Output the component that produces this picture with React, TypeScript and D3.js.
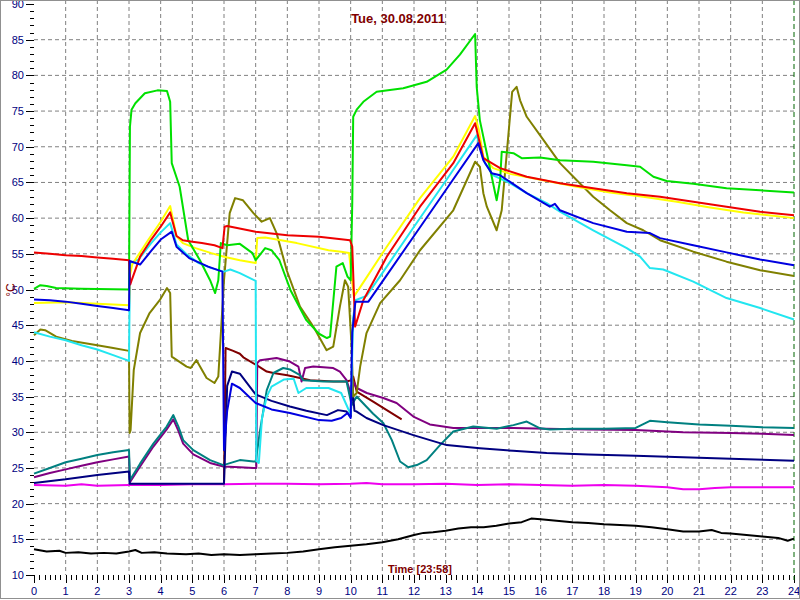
import React from "react";
import * as d3 from "d3";

type P = [number, number];

const title = "Tue, 30.08.2011";
const timeLabel = "Time [23:58]";
const yUnit = "°C";
const hourTicks = d3.range(0, 25);
const valueTicks = d3.range(10, 91, 5);

const blackS: P[] = [[0,13.6],[0.4,13.3],[0.8,13.4],[1.0,13.1],[1.4,13.2],[1.8,13.0],[2.2,13.1],[2.6,13.0],[3.0,13.3],[3.2,13.5],[3.4,13.1],[3.8,13.2],[4.2,13.0],[4.8,12.9],[5.2,13.0],[5.6,12.8],[6.0,12.9],[6.5,12.8],[7.0,12.9],[7.5,13.0],[8.0,13.1],[8.5,13.3],[9.0,13.6],[9.5,13.9],[10.0,14.1],[10.5,14.3],[11.0,14.6],[11.5,15.0],[12.0,15.6],[12.3,15.9],[12.6,16.0],[13.0,16.2],[13.4,16.5],[13.8,16.7],[14.2,16.7],[14.6,16.9],[15.0,17.2],[15.4,17.4],[15.7,17.9],[16.0,17.8],[16.5,17.6],[17.0,17.4],[17.5,17.3],[18.0,17.1],[18.5,17.0],[19.0,16.9],[19.5,16.7],[20.0,16.4],[20.5,16.1],[21.0,16.1],[21.4,16.3],[21.7,15.9],[22.0,15.8],[22.5,15.6],[23.0,15.4],[23.5,15.2],[23.8,14.8],[24.0,15.1]];

const magentaS: P[] = [[0,22.6],[1,22.5],[1.5,22.7],[2,22.5],[3,22.6],[4,22.6],[5,22.7],[6,22.7],[7,22.8],[8,22.8],[9,22.7],[10,22.8],[10.5,22.9],[11,22.7],[12,22.7],[13,22.8],[14,22.6],[15,22.7],[16,22.6],[17,22.5],[18,22.6],[19,22.5],[20,22.3],[20.5,22.0],[21,22.0],[21.5,22.2],[22,22.3],[23,22.3],[24,22.3]];

const navyS: P[] = [[0,22.9],[1,23.4],[2,24.0],[3.0,24.5],[3.02,22.8],[4,22.8],[5,22.8],[6.0,22.8],[6.1,36.5],[6.25,38.5],[6.5,38.2],[7.0,35.3],[7.5,34.4],[8.08,33.6],[8.6,33.0],[9.25,32.4],[9.6,33.1],[9.87,32.9],[10.0,32.2],[10.05,36.5],[10.12,33.0],[10.19,32.9],[10.5,32.0],[11.03,31.0],[11.98,29.6],[13.03,28.2],[14.08,27.75],[15.13,27.4],[16.19,27.1],[17.5,26.9],[19.0,26.7],[20.5,26.5],[22.0,26.3],[24.0,26.0]];

const maroonS: P[] = [[6.0,22.8],[6.05,41.8],[6.29,41.4],[6.5,41.0],[6.61,40.5],[7.03,39.4],[7.35,38.5],[7.56,38.3],[8.0,38.0],[8.4,37.6],[8.72,37.3],[9.45,37.1],[9.87,37.1],[10.03,37.3],[10.08,37.8],[10.19,35.7],[10.71,34.3],[11.14,33.1],[11.61,31.8]];

const purpleS: P[] = [[0,23.7],[0.5,24.3],[1.0,24.8],[1.5,25.3],[2.0,25.8],[2.5,26.2],[3.0,26.6],[3.03,23.0],[3.35,25.2],[3.77,28.0],[4.19,30.4],[4.4,31.8],[4.56,30.2],[4.71,28.4],[5.03,26.9],[5.56,25.7],[5.98,25.2],[6.5,25.1],[6.93,25.0],[7.02,25.0],[7.05,39.7],[7.14,40.1],[7.66,40.4],[8.08,39.9],[8.35,39.2],[8.45,37.1],[8.56,39.0],[8.82,39.2],[9.45,39.0],[9.66,38.5],[9.87,37.3],[10.03,35.0],[10.1,37.0],[10.19,36.2],[10.51,35.5],[11.03,34.8],[11.45,34.1],[11.98,32.2],[12.5,31.1],[13.24,30.6],[14.08,30.6],[15.14,30.6],[16.19,30.5],[17.5,30.4],[19.0,30.3],[20.5,30.0],[22.0,29.9],[23.0,29.8],[24.0,29.6]];

const tealS: P[] = [[0,24.2],[0.5,25.0],[1.0,25.8],[1.5,26.3],[2.0,26.8],[2.5,27.2],[3.0,27.5],[3.03,23.3],[3.35,25.6],[3.77,28.4],[4.19,30.8],[4.4,32.4],[4.56,30.8],[4.71,28.9],[5.03,27.5],[5.56,26.1],[5.98,25.4],[6.5,26.1],[6.93,25.9],[7.0,25.9],[7.14,30.3],[7.35,35.9],[7.56,38.3],[7.87,39.0],[8.08,38.8],[8.4,38.0],[8.5,37.3],[9.14,37.1],[9.87,37.1],[10.03,33.8],[10.19,35.0],[10.71,32.6],[11.03,31.3],[11.3,28.9],[11.56,25.9],[11.82,25.1],[12.09,25.4],[12.4,26.1],[12.82,28.2],[13.24,30.1],[13.87,30.8],[14.61,30.5],[15.14,31.0],[15.56,31.5],[15.98,30.55],[16.29,30.4],[17.0,30.5],[18.0,30.5],[19.0,30.6],[19.45,31.6],[20.0,31.4],[21.0,31.1],[22.0,30.9],[23.0,30.7],[24.0,30.6]];

const oliveS: P[] = [[0,43.6],[0.2,44.4],[0.35,44.3],[0.7,43.4],[1.2,42.8],[2.0,42.2],[2.5,41.8],[3.0,41.4],[3.02,29.9],[3.05,30.3],[3.15,38.7],[3.35,43.9],[3.65,46.7],[3.97,48.5],[4.2,50.2],[4.3,49.5],[4.35,40.6],[4.82,39.2],[4.95,39.0],[5.13,40.1],[5.45,37.6],[5.7,36.9],[5.82,37.8],[6.0,51.3],[6.18,60.7],[6.35,62.8],[6.6,62.5],[6.93,60.7],[7.19,59.5],[7.45,60.0],[7.66,57.9],[7.98,52.7],[8.4,47.6],[8.82,44.8],[9.24,41.5],[9.45,42.0],[9.66,47.6],[9.82,51.3],[9.92,50.4],[10.03,42.0],[10.08,35.0],[10.19,35.5],[10.3,39.2],[10.5,43.9],[10.93,48.1],[11.56,51.3],[12.19,55.5],[13.24,61.1],[13.93,67.9],[14.08,67.2],[14.19,63.5],[14.3,61.6],[14.61,58.3],[14.77,61.1],[14.93,69.1],[15.1,77.7],[15.24,78.4],[15.35,76.5],[15.56,74.2],[16.0,71.5],[16.61,67.7],[17.14,65.3],[17.66,63.0],[18.19,61.1],[18.72,59.3],[19.24,58.3],[19.77,56.9],[20.82,55.3],[21.87,53.9],[22.93,52.7],[24.0,51.9]];

const cyanS: P[] = [[0,44.0],[0.5,43.4],[1.0,42.9],[1.5,42.2],[2.0,41.6],[2.5,40.8],[3.0,40.0],[3.03,53.7],[3.3,54.2],[3.7,56.5],[4.0,58.0],[4.3,59.3],[4.5,56.3],[4.8,55.0],[5.2,53.7],[5.6,53.0],[6.0,52.5],[6.2,52.8],[6.5,52.3],[7.0,51.2],[7.02,26.0],[7.1,25.7],[7.2,32.0],[7.35,35.0],[7.5,36.4],[7.9,37.4],[8.2,37.5],[8.35,35.5],[8.6,36.2],[9.3,36.2],[9.7,35.5],[9.9,33.5],[10.0,32.5],[10.08,46.0],[10.15,48.5],[10.5,49.1],[11.0,52.3],[12.0,58.8],[13.0,65.2],[13.98,71.6],[14.24,67.7],[14.5,66.0],[15.03,64.9],[15.56,63.5],[16.19,62.1],[16.61,60.9],[17.66,58.3],[18.72,55.8],[19.14,54.6],[19.45,53.0],[19.87,52.8],[20.82,51.1],[21.87,48.8],[22.93,47.4],[24.0,45.8]];

const yellowS: P[] = [[0,48.1],[1,48.2],[2,48.0],[3.0,47.8],[3.03,52.0],[3.1,53.5],[3.6,56.9],[4.0,59.5],[4.3,61.7],[4.5,57.5],[4.7,56.5],[5.1,55.8],[5.6,55.1],[6.0,54.6],[6.5,54.1],[7.0,53.7],[7.05,57.2],[7.3,57.3],[8.3,56.5],[9.3,55.5],[9.7,55.3],[9.95,55.1],[10.1,49.0],[10.4,51.0],[11.14,56.0],[12.19,62.8],[13.24,68.6],[13.93,74.3],[14.05,72.3],[14.19,68.6],[14.5,67.0],[15.03,66.2],[16.08,65.3],[17.14,64.4],[18.19,63.6],[19.24,63.0],[20.3,62.3],[21.35,61.5],[22.4,60.8],[24.0,60.0]];

const greenS: P[] = [[0,50.1],[0.2,50.6],[0.4,50.5],[0.7,50.2],[1.5,50.1],[3.0,50.0],[3.03,72.8],[3.08,75.2],[3.2,76.1],[3.5,77.5],[3.9,77.9],[4.2,77.8],[4.3,76.3],[4.35,67.7],[4.6,64.4],[4.87,56.9],[5.24,54.1],[5.56,51.3],[5.72,49.5],[5.82,51.3],[5.9,56.5],[6.1,56.2],[6.5,56.4],[6.9,55.1],[7.0,54.1],[7.3,55.8],[7.5,55.5],[7.75,54.1],[8.1,49.9],[8.6,45.7],[9.0,43.8],[9.25,43.2],[9.35,43.4],[9.55,53.2],[9.75,53.7],[9.9,51.8],[10.0,51.3],[10.05,62.0],[10.08,74.2],[10.19,75.2],[10.4,76.3],[10.82,77.7],[11.66,78.2],[12.4,79.1],[13.03,80.8],[13.45,82.9],[13.93,85.8],[13.98,78.4],[14.08,73.7],[14.3,69.1],[14.61,62.5],[14.72,65.3],[14.77,69.3],[15.14,69.1],[15.4,68.4],[15.98,68.5],[16.61,68.1],[17.66,67.9],[18.72,67.4],[19.14,67.2],[19.56,65.8],[19.98,65.2],[20.82,64.8],[21.87,64.2],[22.93,63.9],[24.0,63.6]];

const redS: P[] = [[0,55.2],[0.5,55.0],[1,54.8],[1.5,54.7],[2,54.5],[2.5,54.3],[3.0,54.1],[3.04,50.7],[3.1,51.5],[3.35,54.6],[3.7,57.0],[4.0,58.8],[4.3,60.8],[4.5,57.5],[4.7,56.9],[5.0,56.7],[5.3,56.5],[5.7,56.2],[5.95,55.8],[6.02,58.8],[6.1,58.9],[7.0,58.1],[8.0,57.6],[9.0,57.4],[9.98,56.9],[10.05,56.0],[10.14,44.8],[10.4,48.5],[11.14,54.6],[12.19,61.6],[13.24,67.7],[13.93,73.3],[14.19,68.4],[14.72,67.0],[15.56,65.8],[16.61,64.9],[17.66,64.2],[18.72,63.5],[19.77,63.0],[20.82,62.3],[21.87,61.6],[22.93,60.9],[24.0,60.4]];

const blueS: P[] = [[0,48.6],[0.5,48.5],[1,48.3],[1.5,48.0],[2,47.7],[2.5,47.4],[3.0,47.1],[3.02,54.0],[3.35,53.5],[3.7,55.4],[4.0,57.0],[4.35,58.1],[4.5,56.0],[4.9,54.4],[5.5,53.2],[5.95,52.5],[6.0,27.5],[6.1,33.0],[6.25,36.8],[6.5,36.2],[7.0,34.1],[7.5,33.2],[8.08,32.7],[9.0,31.7],[9.4,31.6],[9.7,32.0],[9.9,32.7],[10.0,32.0],[10.05,44.0],[10.15,48.3],[10.56,48.3],[11.0,51.1],[12.0,57.5],[13.0,63.9],[14.03,70.5],[14.19,68.1],[14.45,66.3],[14.72,66.0],[15.56,63.5],[16.29,61.6],[16.45,62.0],[16.61,61.1],[17.66,59.3],[18.72,58.1],[19.45,57.9],[19.77,57.2],[20.82,56.2],[21.87,55.2],[22.93,54.2],[24.0,53.4]];

const seriesList: { data: P[]; color: string }[] = [
  { data: blackS, color: "#000000" },
  { data: magentaS, color: "#ee00ee" },
  { data: maroonS, color: "#800000" },
  { data: purpleS, color: "#800080" },
  { data: tealS, color: "#008080" },
  { data: navyS, color: "#000080" },
  { data: oliveS, color: "#808000" },
  { data: cyanS, color: "#22e6f0" },
  { data: yellowS, color: "#ffff00" },
  { data: greenS, color: "#00e000" },
  { data: redS, color: "#ee0000" },
  { data: blueS, color: "#0000e0" },
];

export default function App() {
  const W = 800, H = 600;
  const x = d3.scaleLinear().domain([0, 24]).range([34, 794]);
  const y = d3.scaleLinear().domain([10, 90]).range([575, 4]);
  const line = d3.line<P>().x((d) => x(d[0])).y((d) => y(d[1]));
  const minorX = d3.range(0, 24 * 6 + 1).map((i) => i / 6);
  const minorY = d3.range(10, 91, 1);
  const font = "'Liberation Sans', Arial, sans-serif";
  return (
    <svg width={W} height={H} style={{ position: "absolute", left: 0, top: 0, background: "#fff" }}>
      <rect x={0} y={0} width={W} height={H} fill="#fff" />
      {hourTicks.filter((h) => h > 0 && h < 24).map((h) => (
        <line key={"gx" + h} x1={x(h)} x2={x(h)} y1={0} y2={575} stroke="#808080" strokeDasharray="4,3" />
      ))}
      {valueTicks.filter((v) => v > 10 && v < 90).map((v) => (
        <line key={"gy" + v} x1={34} x2={794} y1={y(v)} y2={y(v)} stroke="#808080" strokeDasharray="4,3" />
      ))}
      {minorY.map((v) => (
        <line key={"ty" + v} x1={v % 5 === 0 ? 26 : 30} x2={34} y1={Math.round(y(v)) + 0.5} y2={Math.round(y(v)) + 0.5} stroke="#000" />
      ))}
      {minorX.map((h, i) => (
        <line key={"tx" + i} x1={Math.round(x(h)) + 0.5} x2={Math.round(x(h)) + 0.5} y1={575} y2={i % 6 === 0 ? 583 : 580} stroke="#000" />
      ))}
      {valueTicks.map((v) => (
        <text key={"ly" + v} x={24} y={y(v) + 4} textAnchor="end" fontFamily={font} fontSize={11} fill="#000080">{v}</text>
      ))}
      {hourTicks.map((h) => (
        <text key={"lx" + h} x={x(h)} y={595} textAnchor="middle" fontFamily={font} fontSize={11} fill="#000080">{h}</text>
      ))}
      <line x1={x(24)} x2={x(24)} y1={0} y2={580} stroke="#006400" strokeDasharray="5,3" />
      {seriesList.map((s, i) => (
        <path key={"s" + i} d={line(s.data) || ""} fill="none" stroke={s.color} strokeWidth={2} strokeLinejoin="round" />
      ))}
      <text x={398} y={23} textAnchor="middle" fontFamily={font} fontSize={13} fontWeight="bold" fill="#800000">{title}</text>
      <text x={388} y={573} fontFamily={font} fontSize={11} fontWeight="bold" fill="#800000">{timeLabel}</text>
      <text transform="translate(15,290) rotate(-90)" textAnchor="middle" fontFamily={font} fontSize={12} fill="#800000">{yUnit}</text>
      <rect x={0.5} y={0.5} width={W - 1} height={H - 2} fill="none" stroke="#909090" />
    </svg>
  );
}
